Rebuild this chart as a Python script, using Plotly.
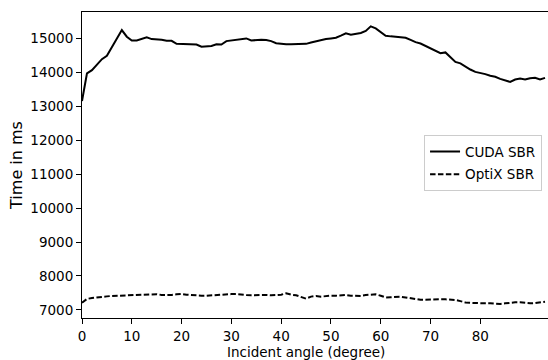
import plotly.graph_objects as go

angles = list(range(0, 94))

cuda_sbr = [13150, 13960, 14056, 14224, 14380, 14480, 14745, 14990, 15236, 15040,
            14930, 14930, 14970, 15020, 14970, 14970, 14950, 14920, 14920, 14830,
            14830, 14810, 14825, 14810, 14745, 14745, 14765, 14820, 14810, 14910,
            14930, 14950, 14950, 14990, 14930, 14950, 14950, 14940, 14910, 14850,
            14830, 14820, 14820, 14830, 14820, 14830, 14870, 14910, 14930, 14970,
            14990, 15010, 15070, 15140, 15100, 15130, 15150, 15210, 15345, 15285,
            15170, 15070, 15050, 15030, 15020, 15010, 14945, 14880, 14840, 14765,
            14695, 14625, 14557, 14578, 14430, 14300, 14254, 14154, 14075, 14005,
            13975, 13940, 13890, 13860, 13800, 13760, 13710, 13780, 13810, 13780,
            13820, 13830, 13780, 13830]

optix_sbr = [7215, 7325, 7354, 7375, 7395, 7400, 7413, 7420, 7433, 7433,
             7443, 7443, 7443, 7450, 7463, 7463, 7443, 7433, 7443, 7463,
             7472, 7450, 7433, 7420, 7420, 7420, 7433, 7443, 7443, 7450,
             7468, 7472, 7450, 7443, 7433, 7443, 7433, 7443, 7433, 7443,
             7450, 7490, 7450, 7433, 7393, 7334, 7393, 7413, 7393, 7413,
             7420, 7420, 7430, 7440, 7420, 7413, 7413, 7440, 7455, 7461,
             7420, 7370, 7375, 7390, 7390, 7370, 7340, 7330, 7300, 7300,
             7310, 7314, 7314, 7314, 7305, 7294, 7260, 7220, 7210, 7200,
             7196, 7196, 7196, 7185, 7176, 7195, 7216, 7225, 7226, 7210,
             7196, 7205, 7216, 7245]

x_ticks = [0, 10, 20, 30, 40, 50, 60, 70, 80]
y_ticks = [7000, 8000, 9000, 10000, 11000, 12000, 13000, 14000, 15000]
y_tick_labels = [str(v) for v in y_ticks]

FONT = "DejaVu Sans"
FS = 13.5

fig = go.Figure()
fig.add_trace(go.Scatter(x=angles, y=cuda_sbr, mode="lines", name="CUDA SBR",
                         line=dict(color="black", width=2), legendgroup="a"))
fig.add_trace(go.Scatter(x=angles, y=optix_sbr, mode="lines", name="OptiX SBR",
                         line=dict(color="black", width=2, dash="5.5px,2.4px"),
                         legendgroup="b"))

fig.update_layout(
    width=548, height=360,
    margin=dict(l=82, r=0, t=12, b=42),
    paper_bgcolor="white", plot_bgcolor="white",
    font=dict(family=FONT, size=FS, color="black"),
    showlegend=True,
    legend=dict(x=0.734, y=0.597, xanchor="left", yanchor="top",
                bordercolor="#cccccc", borderwidth=1, bgcolor="rgba(255,255,255,0.8)",
                font=dict(family=FONT, size=FS), tracegroupgap=2),
    xaxis=dict(range=[0, 93.6], tickvals=x_ticks, ticks="outside", ticklen=5,
               tickwidth=1, tickcolor="black", showline=True, linecolor="black",
               linewidth=1, mirror=True, showgrid=False, zeroline=False,
               ticklabelstandoff=1),
    yaxis=dict(range=[6764, 15767], tickvals=y_ticks, ticktext=y_tick_labels,
               ticks="outside", ticklen=5,
               tickwidth=1, tickcolor="black", showline=True, linecolor="black",
               linewidth=1, mirror=False, showgrid=False, zeroline=False,
               title=dict(text="Time in ms", standoff=3)),
    annotations=[dict(text="Incident angle (degree)", xref="paper", yref="paper",
                      x=(305.5 - 82) / 466, y=-(352 - 318) / 306,
                      xanchor="center", yanchor="middle", showarrow=False,
                      font=dict(family=FONT, size=FS))],
)

fig.write_html("out.html")
